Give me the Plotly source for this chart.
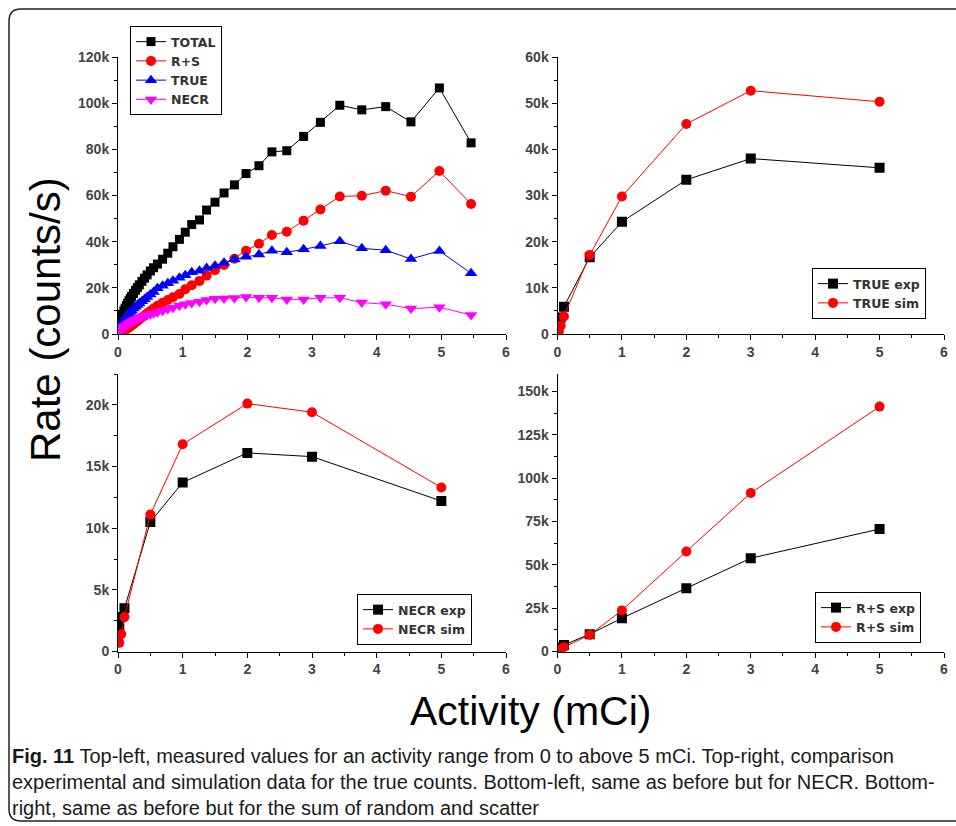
import plotly.graph_objects as go

# ---------------- data ----------------
# Top-left: measured values (decaying activity)
act_all = [0.03, 0.05, 0.07, 0.09, 0.11, 0.13, 0.15, 0.17, 0.19, 0.21, 0.24, 0.27, 0.30, 0.33,
           0.37, 0.41, 0.45, 0.50, 0.55, 0.61, 0.69, 0.77, 0.85, 0.95, 1.04, 1.14, 1.26, 1.37,
           1.50, 1.64, 1.80, 1.98, 2.18, 2.38, 2.61, 2.87, 3.13, 3.43, 3.77, 4.14, 4.53, 4.97, 5.46]
total = [5500, 7000, 8500, 10000, 11200, 12300, 13400, 14400, 15400, 16300, 17600, 18900, 20100, 21300,
         22800, 24200, 25600, 27300, 28700, 30300, 32400, 35000, 37800, 41000, 44100, 47400, 49400, 53700,
         57100, 61100, 64600, 69500, 72900, 78900, 79400, 85600, 91700, 99100, 97100, 98500, 91900, 106600, 82800]
r_s = [400, 700, 1000, 1400, 1800, 2100, 2500, 2900, 3300, 3700, 4300, 5000, 5600, 6300,
       7200, 8000, 9000, 10000, 11000, 12200, 13500, 14700, 15900, 17300, 19400, 21100, 23000, 25300,
       27600, 29900, 32600, 36100, 39100, 42900, 44300, 49100, 53900, 59600, 59900, 62100, 59500, 70600, 56300]
true = [3500, 4500, 5300, 6100, 6900, 7600, 8300, 9000, 9600, 10200, 11000, 11800, 12600, 13300,
        14200, 15100, 16000, 17100, 18200, 19800, 20900, 22000, 23100, 24400, 25400, 26700, 27400, 28600,
        29600, 30900, 32400, 33500, 34400, 36100, 35400, 36700, 38100, 40200, 37100, 36300, 32500, 36000, 26300]
necr = [1500, 2000, 2500, 3000, 3400, 3800, 4200, 4600, 5000, 5300, 5800, 6200, 6600, 7000,
        7400, 7800, 8200, 8600, 9000, 9400, 10100, 10800, 11400, 12300, 12900, 13400, 14000, 14700,
        15300, 15400, 15600, 16000, 15700, 15700, 15000, 15000, 15700, 15700, 13600, 12900, 11000, 11600, 8200]

# Comparison panels (experiment vs simulation)
act_cmp = [0.02, 0.05, 0.1, 0.5, 1, 2, 3, 5]
true_exp = [2200, 3600, 5900, 16600, 24300, 33400, 38000, 36000]
true_sim = [600, 1800, 3800, 17100, 29800, 45500, 52700, 50300]
necr_exp = [2000, 2800, 3500, 10500, 13700, 16100, 15800, 12200]
necr_sim = [700, 1400, 2800, 11100, 16800, 20100, 19400, 13300]
rs_exp = [1300, 2500, 3800, 10000, 19200, 36500, 53800, 70600]
rs_sim = [500, 1200, 2500, 9600, 23700, 57700, 91400, 141200]

x_label = "Activity (mCi)"
y_label = "Rate (counts/s)"
caption = ("<b>Fig. 11</b> Top-left, measured values for an activity range from 0 to above 5 mCi. Top-right, comparison<br>"
           "experimental and simulation data for the true counts. Bottom-left, same as before but for NECR. Bottom-<br>"
           "right, same as before but for the sum of random and scatter")

# ---------------- figure ----------------
W, H = 956, 826
BLACK, RED, BLUE, MAG = "#000000", "#ff0000", "#0000ff", "#ff00ff"


def px_x(p):
    return p / W


def px_y(p):
    return 1 - p / H


fig = go.Figure()


def add(x, y, name, color, symbol, size, xa, ya, legend):
    fig.add_trace(go.Scatter(
        x=x, y=y, name=name, mode="lines+markers",
        line=dict(color=color, width=1),
        marker=dict(color=color, symbol=symbol, size=size, line=dict(width=0)),
        xaxis=xa, yaxis=ya, legend=legend))


add(act_all, total, "TOTAL", BLACK, "square", 9, "x", "y", "legend")
add(act_all, r_s, "R+S", RED, "circle", 10, "x", "y", "legend")
add(act_all, true, "TRUE", BLUE, "triangle-up", 11, "x", "y", "legend")
add(act_all, necr, "NECR", MAG, "triangle-down", 11, "x", "y", "legend")

add(act_cmp, true_exp, "TRUE exp", BLACK, "square", 10, "x2", "y2", "legend2")
add(act_cmp, true_sim, "TRUE sim", RED, "circle", 10, "x2", "y2", "legend2")
add(act_cmp, necr_exp, "NECR exp", BLACK, "square", 10, "x3", "y3", "legend3")
add(act_cmp, necr_sim, "NECR sim", RED, "circle", 10, "x3", "y3", "legend3")
add(act_cmp, rs_exp, "R+S exp", BLACK, "square", 10, "x4", "y4", "legend4")
add(act_cmp, rs_sim, "R+S sim", RED, "circle", 10, "x4", "y4", "legend4")

tickfont = dict(family="Liberation Sans, Arial", size=14, color="#444444", weight="bold")


def xaxis(dom, anchor):
    return dict(domain=dom, anchor=anchor, range=[0, 6], dtick=1, tick0=0, automargin=False,
                showline=True, linecolor="black", linewidth=1, ticks="outside", ticklen=5,
                tickcolor="black", showgrid=False, zeroline=False, tickfont=tickfont,
                minor=dict(dtick=0.5, ticks="outside", ticklen=3, tickcolor="black", showgrid=False))


def yaxis(dom, anchor, rng, dt):
    return dict(domain=dom, anchor=anchor, range=rng, dtick=dt, tick0=0, tickformat="~s",
                automargin=False,
                showline=True, linecolor="black", linewidth=1, ticks="outside", ticklen=5,
                tickcolor="black", showgrid=False, zeroline=False, tickfont=tickfont,
                minor=dict(dtick=dt / 2, ticks="outside", ticklen=3, tickcolor="black", showgrid=False))


xl = [px_x(118), px_x(506)]
xr = [px_x(557.5), px_x(944)]
yt = [px_y(334), px_y(57)]
yb = [px_y(651.5), px_y(374)]

legfont = dict(family="DejaVu Sans", size=12.5, color="#333333", weight="bold")


def leg(x, y):
    return dict(x=px_x(x), y=px_y(y), xanchor="left", yanchor="top", bgcolor="white",
                bordercolor="black", borderwidth=1, font=legfont, tracegroupgap=0,
                itemwidth=30)


fig.update_layout(
    width=W, height=H, margin=dict(l=0, r=0, t=0, b=0, pad=0, autoexpand=False),
    paper_bgcolor="white", plot_bgcolor="white",
    xaxis=xaxis(xl, "y"), yaxis=yaxis(yt, "x", [0, 120000], 20000),
    xaxis2=xaxis(xr, "y2"), yaxis2=yaxis(yt, "x2", [0, 60000], 10000),
    xaxis3=xaxis(xl, "y3"), yaxis3=yaxis(yb, "x3", [0, 22500], 5000),
    xaxis4=xaxis(xr, "y4"), yaxis4=yaxis(yb, "x4", [0, 160000], 25000),
    legend=leg(130, 26), legend2=leg(812, 268), legend3=leg(357, 594), legend4=leg(815, 592),
    showlegend=True,
)

fig.add_annotation(text=y_label, x=px_x(45), y=px_y(320), xref="paper", yref="paper",
                   xanchor="center", yanchor="middle",
                   textangle=-90, showarrow=False,
                   font=dict(family="Liberation Sans, Arial", size=42, color="black"))
fig.add_annotation(text=x_label, x=px_x(530), y=px_y(711), xref="paper", yref="paper",
                   xanchor="center", yanchor="middle",
                   showarrow=False, font=dict(family="Liberation Sans, Arial", size=41, color="black"))
fig.add_annotation(text=caption, x=px_x(10), y=px_y(743), xref="paper", yref="paper",
                   xanchor="left", yanchor="top", align="left", showarrow=False,
                   font=dict(family="Liberation Sans, Arial", size=20, color="#1a1a1a"))

# rounded outer frame (open on the right, as cropped in the reference)
x0, y0 = px_x(9), px_y(9)
x1, y1 = px_x(1000), px_y(821)
rx, ry = 12 / W, 12 / H
path = f"M {x0},{y1 + ry} L {x0},{y0 - ry} Q {x0},{y0} {x0 + rx},{y0} L {x1},{y0}"
fig.add_shape(type="path", path=path, xref="paper", yref="paper",
              line=dict(color="#222222", width=1.5))
path2 = f"M {x0},{y1 + ry} Q {x0},{y1} {x0 + rx},{y1} L {x1},{y1}"
fig.add_shape(type="path", path=path2, xref="paper", yref="paper",
              line=dict(color="#222222", width=1.5))

fig.write_html("out.html")
